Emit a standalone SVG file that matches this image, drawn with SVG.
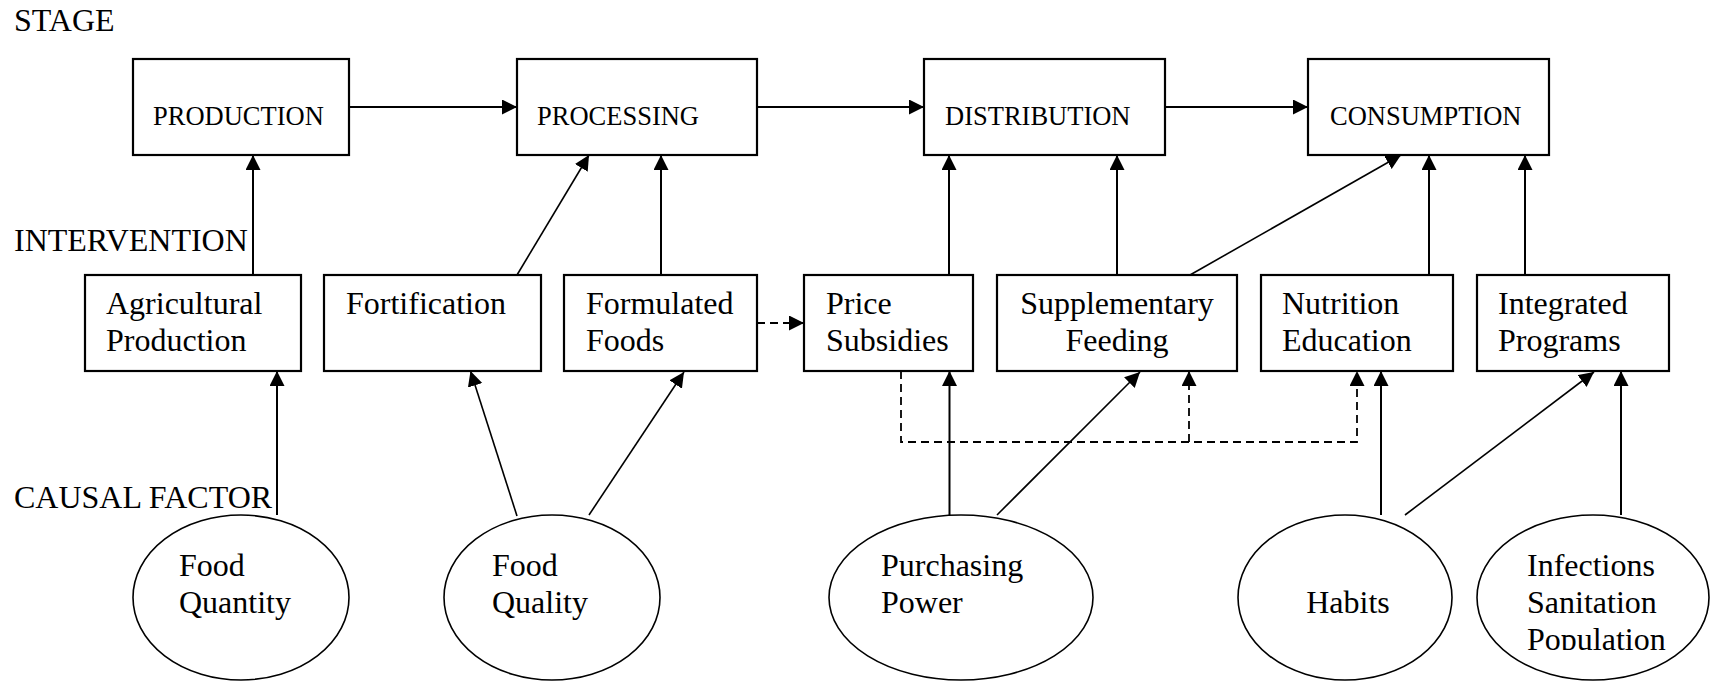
<svg xmlns="http://www.w3.org/2000/svg" width="1711" height="682" viewBox="0 0 1711 682">
<style>
text{font-family:"Liberation Serif","Times New Roman",serif;fill:#000}
.lbl{font-size:32px}
.stg{font-size:26.5px}
.box{fill:#fff;stroke:#000;stroke-width:2.2}
.ell{fill:#fff;stroke:#000;stroke-width:1.6}
.ln{stroke:#000;stroke-width:2;fill:none}
.dg{stroke:#000;stroke-width:1.6;fill:none}
.ds{stroke:#000;stroke-width:1.8;fill:none;stroke-dasharray:8 5}
</style>
<defs>
<marker id="ah" markerUnits="userSpaceOnUse" markerWidth="16" markerHeight="16" refX="15" refY="7.5" orient="auto">
<path d="M0,0 L15,7.5 L0,15 z" fill="#000"/>
</marker>
<clipPath id="clipInf"><rect x="1470" y="500" width="241" height="150"/></clipPath>
</defs>

<g id="labels">
<text class="lbl" x="14" y="31">STAGE</text>
<text class="lbl" x="14" y="251">INTERVENTION</text>
<text class="lbl" x="14" y="508">CAUSAL FACTOR</text>
</g>

<g id="connectors">
<line class="ln" x1="349" y1="107" x2="517" y2="107" marker-end="url(#ah)"/>
<line class="ln" x1="757" y1="107" x2="924" y2="107" marker-end="url(#ah)"/>
<line class="ln" x1="1165" y1="107" x2="1308" y2="107" marker-end="url(#ah)"/>
<line class="ln" x1="253" y1="275" x2="253" y2="155" marker-end="url(#ah)"/>
<line class="dg" x1="517" y1="275" x2="589" y2="155" marker-end="url(#ah)"/>
<line class="ln" x1="661" y1="275" x2="661" y2="155" marker-end="url(#ah)"/>
<line class="ln" x1="949" y1="275" x2="949" y2="155" marker-end="url(#ah)"/>
<line class="ln" x1="1117" y1="275" x2="1117" y2="155" marker-end="url(#ah)"/>
<line class="dg" x1="1190" y1="275" x2="1401" y2="155" marker-end="url(#ah)"/>
<line class="ln" x1="1429" y1="275" x2="1429" y2="155" marker-end="url(#ah)"/>
<line class="ln" x1="1525" y1="275" x2="1525" y2="155" marker-end="url(#ah)"/>
<line class="ds" x1="757" y1="323" x2="804" y2="323" marker-end="url(#ah)"/>
<polyline class="ds" points="901,371 901,442 1357,442 1357,371" marker-end="url(#ah)"/>
<line class="ds" x1="1189" y1="442" x2="1189" y2="371" marker-end="url(#ah)"/>
<line class="ln" x1="277" y1="515" x2="277" y2="371" marker-end="url(#ah)"/>
<line class="dg" x1="517" y1="516" x2="470.5" y2="371" marker-end="url(#ah)"/>
<line class="dg" x1="589" y1="515" x2="684" y2="372" marker-end="url(#ah)"/>
<line class="ln" x1="949.5" y1="515" x2="949.5" y2="371" marker-end="url(#ah)"/>
<line class="dg" x1="997" y1="515" x2="1140" y2="372" marker-end="url(#ah)"/>
<line class="ln" x1="1381" y1="515" x2="1381" y2="371" marker-end="url(#ah)"/>
<line class="dg" x1="1405" y1="515" x2="1594" y2="372" marker-end="url(#ah)"/>
<line class="ln" x1="1621" y1="515" x2="1621" y2="371" marker-end="url(#ah)"/>
</g>

<g id="production"><rect class="box" x="133" y="59" width="216" height="96"/><text class="stg" x="153" y="125">PRODUCTION</text></g>
<g id="processing"><rect class="box" x="517" y="59" width="240" height="96"/><text class="stg" x="537" y="125">PROCESSING</text></g>
<g id="distribution"><rect class="box" x="924" y="59" width="241" height="96"/><text class="stg" x="945" y="125">DISTRIBUTION</text></g>
<g id="consumption"><rect class="box" x="1308" y="59" width="241" height="96"/><text class="stg" x="1330" y="125">CONSUMPTION</text></g>

<g id="agricultural"><rect class="box" x="85" y="275" width="216" height="96"/><text class="lbl" x="106" y="314">Agricultural</text><text class="lbl" x="106" y="351">Production</text></g>
<g id="fortification"><rect class="box" x="324" y="275" width="217" height="96"/><text class="lbl" x="346" y="314">Fortification</text></g>
<g id="formulated"><rect class="box" x="564" y="275" width="193" height="96"/><text class="lbl" x="586" y="314">Formulated</text><text class="lbl" x="586" y="351">Foods</text></g>
<g id="price"><rect class="box" x="804" y="275" width="169" height="96"/><text class="lbl" x="826" y="314">Price</text><text class="lbl" x="826" y="351">Subsidies</text></g>
<g id="supplementary"><rect class="box" x="997" y="275" width="240" height="96"/><text class="lbl" x="1117" y="314" text-anchor="middle">Supplementary</text><text class="lbl" x="1117" y="351" text-anchor="middle">Feeding</text></g>
<g id="nutrition"><rect class="box" x="1261" y="275" width="192" height="96"/><text class="lbl" x="1282" y="314">Nutrition</text><text class="lbl" x="1282" y="351">Education</text></g>
<g id="integrated"><rect class="box" x="1477" y="275" width="192" height="96"/><text class="lbl" x="1498" y="314">Integrated</text><text class="lbl" x="1498" y="351">Programs</text></g>

<g id="food-quantity"><ellipse class="ell" cx="241" cy="597.5" rx="108" ry="82.5"/><text class="lbl" x="179" y="576">Food</text><text class="lbl" x="179" y="613">Quantity</text></g>
<g id="food-quality"><ellipse class="ell" cx="552" cy="597.5" rx="108" ry="82.5"/><text class="lbl" x="492" y="576">Food</text><text class="lbl" x="492" y="613">Quality</text></g>
<g id="purchasing-power"><ellipse class="ell" cx="961" cy="597.5" rx="132" ry="82.5"/><text class="lbl" x="881" y="576">Purchasing</text><text class="lbl" x="881" y="613">Power</text></g>
<g id="habits"><ellipse class="ell" cx="1345" cy="597.5" rx="107" ry="82.5"/><text class="lbl" x="1348" y="613" text-anchor="middle">Habits</text></g>
<g id="infections"><ellipse class="ell" cx="1593" cy="597.5" rx="116" ry="82.5"/><g clip-path="url(#clipInf)"><text class="lbl" x="1527" y="576">Infections</text><text class="lbl" x="1527" y="613">Sanitation</text><text class="lbl" x="1527" y="650">Population</text></g></g>
</svg>
